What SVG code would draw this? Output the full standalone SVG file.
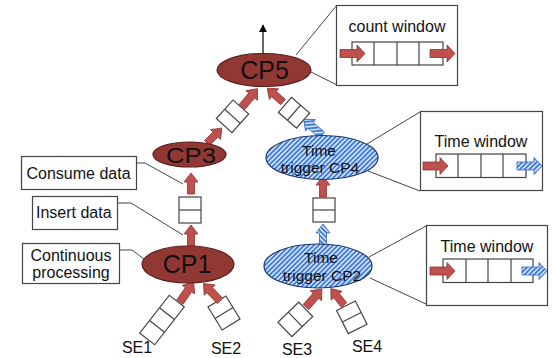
<svg xmlns="http://www.w3.org/2000/svg" width="552" height="358" viewBox="0 0 552 358">
  <defs>
    <pattern id="hatch" width="3.4" height="3.4" patternUnits="userSpaceOnUse" patternTransform="rotate(45)">
      <rect width="3.4" height="3.4" fill="#eaf1fc"/>
      <line x1="1" y1="0" x2="1" y2="3.4" stroke="#3677de" stroke-width="1.9"/>
    </pattern>
    <marker id="tip" viewBox="0 0 10 10" refX="9" refY="5" markerWidth="8" markerHeight="8" markerUnits="userSpaceOnUse" orient="auto">
      <path d="M0,0 L10,5 L0,10 Z" fill="#000"/>
    </marker>
    <!-- block arrows drawn along +x, tail at origin -->
    <path id="arr21" d="M0,-3.5 H12 V-7 L21,0 L12,7 V3.5 H0 Z"/>
    <path id="arr24" d="M0,-3.8 H15 V-7.5 L24,0 L15,7.5 V3.8 H0 Z"/>
    <path id="arrH" d="M0,-4 H17 V-8.5 L25,0 L17,8.5 V4 H0 Z"/>
  </defs>
  <style>
    .cp { fill: #923834; stroke: #5e1f1c; stroke-width: 1.2; }
    .tt { fill: url(#hatch); stroke: #1d3563; stroke-width: 1.2; }
    .red { fill: #c0504d; stroke: #8c3431; stroke-width: 0.8; }
    .blue { fill: url(#hatch); stroke: #2f64c0; stroke-width: 0.8; }
    .q { fill: #fff; stroke: #444; stroke-width: 1.2; }
    .box { fill: #fff; stroke: #444; stroke-width: 1.2; }
    .lead { fill: none; stroke: #444; stroke-width: 1; }
    .t { font-family: "Liberation Sans", Arial, sans-serif; fill: #111; }
    .big { font-size: 25px; text-anchor: middle; }
    .mid { font-size: 16px; text-anchor: middle; }
    .nd { font-size: 15.5px; text-anchor: middle; }
    .lbl { font-size: 16px; }
  </style>

  <!-- callout leaders -->
  <g id="leaders">
    <polyline class="lead" points="137,163 145,163 183,184"/>
    <polyline class="lead" points="117,203 131,203 183,235"/>
    <polyline class="lead" points="120,250 132,250 144,259"/>
    <line class="lead" x1="296" y1="55" x2="337" y2="5"/>
    <line class="lead" x1="307" y1="70" x2="337" y2="85"/>
    <line class="lead" x1="367" y1="144" x2="420" y2="112"/>
    <line class="lead" x1="368" y1="171" x2="420" y2="191"/>
    <line class="lead" x1="369" y1="257" x2="426" y2="226"/>
    <line class="lead" x1="370" y1="278" x2="426" y2="304"/>
  </g>

  <!-- connectors: queues and block arrows -->
  <g id="connectors">
    <!-- output of CP5 -->
    <line x1="263" y1="54" x2="263" y2="25" stroke="#000" stroke-width="1.2" marker-end="url(#tip)"/>

    <!-- queues -->
    <g transform="translate(162,320) rotate(38)">
      <rect class="q" x="-9.5" y="-24" width="19" height="48"/>
      <line class="q" x1="-9.5" y1="-8" x2="9.5" y2="-8"/>
      <line class="q" x1="-9.5" y1="8" x2="9.5" y2="8"/>
    </g>
    <g transform="translate(224,313) rotate(-31.5)">
      <rect class="q" x="-10.5" y="-13.5" width="21" height="27"/>
      <line class="q" x1="-10.5" y1="0" x2="10.5" y2="0"/>
    </g>
    <g transform="translate(295.3,319.4) rotate(46)">
      <rect class="q" x="-10" y="-14.5" width="20" height="29"/>
      <line class="q" x1="-10" y1="0" x2="10" y2="0"/>
    </g>
    <g transform="translate(351.8,317.3) rotate(-26.7)">
      <rect class="q" x="-10.5" y="-13" width="21" height="26"/>
      <line class="q" x1="-10.5" y1="0" x2="10.5" y2="0"/>
    </g>
    <g>
      <rect class="q" x="179" y="197" width="22" height="26"/>
      <line class="q" x1="179" y1="210" x2="201" y2="210"/>
    </g>
    <g>
      <rect class="q" x="313" y="198" width="22" height="24"/>
      <line class="q" x1="313" y1="210" x2="335" y2="210"/>
    </g>
    <g transform="translate(232.5,116.3) rotate(42)">
      <rect class="q" x="-10.5" y="-12.5" width="21" height="25"/>
      <line class="q" x1="-10.5" y1="0" x2="10.5" y2="0"/>
    </g>
    <g transform="translate(294,112.7) rotate(-49)">
      <rect class="q" x="-10" y="-12" width="20" height="24"/>
      <line class="q" x1="-10" y1="0" x2="10" y2="0"/>
    </g>

    <!-- block arrows -->
    <use href="#arr24" class="red" transform="translate(180,302) rotate(-55.6)"/>
    <use href="#arr24" class="red" transform="translate(220,301) rotate(-133.3)"/>
    <use href="#arr24" class="red" transform="translate(306,307) rotate(-48.6)"/>
    <use href="#arr21" class="red" transform="translate(344,305) rotate(-128.7)"/>
    <use href="#arr21" class="red" transform="translate(191,246) rotate(-90)"/>
    <use href="#arr21" class="red" transform="translate(191,194) rotate(-90)"/>
    <use href="#arr21" class="red" transform="translate(207,143) rotate(-45)"/>
    <use href="#arr24" class="red" transform="translate(242,107) rotate(-49.9)"/>
    <use href="#arr21" class="red" transform="translate(283,102) rotate(-138.8)"/>
    <use href="#arr24" class="blue" transform="translate(322,135) rotate(-139.9)"/>
    <use href="#arr21" class="blue" transform="translate(323,245) rotate(-90)"/>
    <use href="#arr21" class="red" transform="translate(323,197) rotate(-90)"/>
  </g>

  <!-- processing nodes -->
  <g id="cp5">
    <ellipse class="cp" cx="264" cy="70" rx="47" ry="16.5"/>
    <text class="t big" x="264.5" y="79">CP5</text>
  </g>
  <g id="cp3">
    <ellipse class="cp" cx="189.5" cy="154.5" rx="36.5" ry="12.5"/>
    <text class="t" x="191" y="162.5" font-size="22" text-anchor="middle" textLength="50" lengthAdjust="spacingAndGlyphs">CP3</text>
  </g>
  <g id="cp1">
    <ellipse class="cp" cx="188" cy="264.5" rx="46" ry="18.5"/>
    <text class="t big" x="187" y="273">CP1</text>
  </g>
  <g id="cp4">
    <ellipse class="tt" cx="322" cy="157.5" rx="56" ry="22"/>
    <text class="t nd" x="319" y="156">Time</text>
    <text class="t nd" x="320" y="173">trigger CP4</text>
  </g>
  <g id="cp2">
    <ellipse class="tt" cx="318" cy="266" rx="54" ry="22"/>
    <text class="t nd" x="321" y="263">Time</text>
    <text class="t nd" x="322" y="281">trigger CP2</text>
  </g>

  <!-- sources -->
  <g id="se1"><text class="t mid" x="137" y="353">SE1</text></g>
  <g id="se2"><text class="t mid" x="226" y="353.5">SE2</text></g>
  <g id="se3"><text class="t mid" x="297" y="354.5">SE3</text></g>
  <g id="se4"><text class="t mid" x="367" y="351.5">SE4</text></g>

  <!-- labels -->
  <g id="consume">
    <rect class="box" x="21.5" y="156.5" width="115" height="33"/>
    <text class="t lbl" x="26.5" y="179">Consume data</text>
  </g>
  <g id="insert">
    <rect class="box" x="32.5" y="196.5" width="85" height="33"/>
    <text class="t lbl" x="36" y="217.5">Insert data</text>
  </g>
  <g id="continuous">
    <rect class="box" x="22.5" y="243.5" width="97" height="40" stroke="#777"/>
    <text class="t mid" x="71" y="260.5">Continuous</text>
    <text class="t mid" x="71" y="278">processing</text>
  </g>

  <!-- window details -->
  <g id="count-window">
    <rect class="box" x="336.5" y="5.5" width="121" height="80"/>
    <text class="t mid" x="397" y="31.5">count window</text>
    <rect class="q" x="352" y="42" width="91" height="23"/>
    <line class="q" x1="374" y1="42" x2="374" y2="65"/>
    <line class="q" x1="397" y1="42" x2="397" y2="65"/>
    <line class="q" x1="419" y1="42" x2="419" y2="65"/>
    <use href="#arrH" class="red" transform="translate(340,53.5)"/>
    <use href="#arrH" class="red" transform="translate(430,53.5)"/>
  </g>
  <g id="time-window-4">
    <rect class="box" x="420.5" y="111.5" width="122" height="79"/>
    <text class="t mid" x="481" y="146.5">Time window</text>
    <rect class="q" x="436" y="154" width="90" height="23.5"/>
    <line class="q" x1="458" y1="154" x2="458" y2="177.5"/>
    <line class="q" x1="481" y1="154" x2="481" y2="177.5"/>
    <line class="q" x1="503" y1="154" x2="503" y2="177.5"/>
    <use href="#arrH" class="red" transform="translate(423,166)"/>
    <use href="#arrH" class="blue" transform="translate(517,166)"/>
  </g>
  <g id="time-window-2">
    <rect class="box" x="426.5" y="225.5" width="121" height="80"/>
    <text class="t mid" x="487" y="251.5">Time window</text>
    <rect class="q" x="443" y="259" width="90" height="23.5"/>
    <line class="q" x1="466" y1="259" x2="466" y2="282.5"/>
    <line class="q" x1="488" y1="259" x2="488" y2="282.5"/>
    <line class="q" x1="511" y1="259" x2="511" y2="282.5"/>
    <use href="#arrH" class="red" transform="translate(430,271)"/>
    <use href="#arrH" class="blue" transform="translate(522,271)"/>
  </g>
</svg>
